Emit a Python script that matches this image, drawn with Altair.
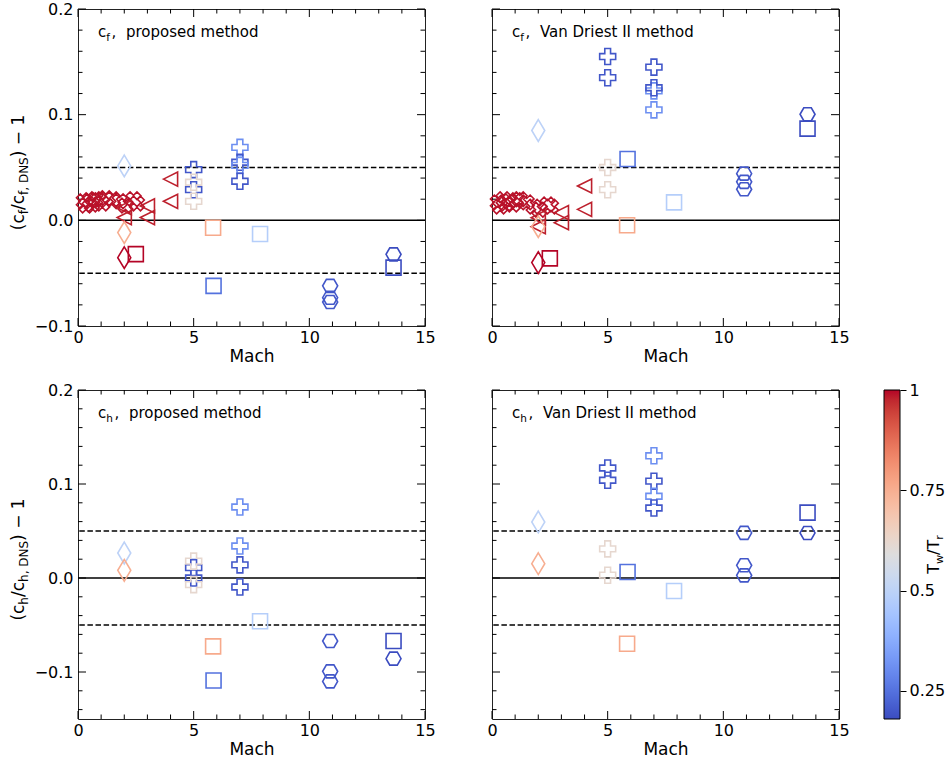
import altair as alt
import pandas as pd
import numpy as np

FONT = "DejaVu Sans"

# ---------------- data ----------------
# "X" markers (cf panels only)
cross_mach = [0.25, 0.35, 0.5, 0.6, 0.75, 0.9, 1.05, 1.2, 1.5, 1.8, 2.05, 2.4, 2.55]
cross_tw = [0.99, 0.99, 0.99, 0.99, 0.99, 0.99, 0.99, 0.99, 0.99, 0.99, 0.99, 0.99, 0.99]
cross_cf_prop = [0.018, 0.014, 0.019, 0.015, 0.020, 0.019, 0.016, 0.021, 0.020, 0.018, 0.014, 0.020, 0.016]
cross_cf_vd = [0.017, 0.013, 0.020, 0.016, 0.018, 0.015, 0.019, 0.020, 0.017, 0.013, 0.010, 0.015, 0.013]

# left triangles (cf panels only)
tri_mach = [2.0, 2.0, 3.0, 3.0, 4.0, 4.0]
tri_tw = [0.98, 0.98, 0.98, 0.98, 0.98, 0.98]
tri_cf_prop = [0.012, 0.0026, 0.0136, 0.0026, 0.039, 0.018]
tri_cf_vd = [0.0025, -0.006, 0.0073, -0.0022, 0.0325, 0.0104]

# thin diamonds
dia_mach = [2.0, 2.0, 2.0]
dia_tw = [0.5, 0.75, 1.0]
dia_cf_prop = [0.0515, -0.0116, -0.0353]
dia_cf_vd = [0.085, -0.006, -0.040]
dia_ch_prop = [0.0266, 0.0082, None]
dia_ch_vd = [0.0596, 0.0152, None]

# squares
sq_mach = [2.5, 5.84, 5.86, 7.87, 13.64]
sq_tw = [1.0, 0.76, 0.25, 0.48, 0.18]
sq_cf_prop = [-0.032, -0.007, -0.062, -0.013, -0.0448]
sq_cf_vd = [-0.036, -0.0047, 0.058, 0.017, 0.0868]
sq_ch_prop = [None, -0.0727, -0.109, -0.046, -0.067]
sq_ch_vd = [None, -0.070, 0.0064, -0.0138, 0.0695]

# plus markers
plus_mach = [5.0, 5.0, 5.0, 5.0, 7.0, 7.0, 7.0, 7.0]
plus_tw = [0.2, 0.2, 0.62, 0.62, 0.31, 0.2, 0.31, 0.2]
plus_cf_prop = [0.048, 0.029, 0.036, 0.018, 0.069, 0.055, 0.052, 0.037]
plus_cf_vd = [0.155, 0.135, 0.050, 0.029, 0.1225, 0.145, 0.1045, 0.1255]
plus_ch_prop = [0.011, 0.000, 0.018, -0.007, 0.0755, 0.014, 0.034, -0.0096]
plus_ch_vd = [0.117, 0.104, 0.031, 0.003, 0.130, 0.103, 0.087, 0.0745]

# hexagons
hex_mach = [10.9, 10.9, 10.9, 13.64]
hex_tw = [0.2, 0.2, 0.2, 0.18]
hex_cf_prop = [-0.062, -0.0732, -0.0773, -0.0322]
hex_cf_vd = [0.0442, 0.0364, 0.0294, 0.1004]
hex_ch_prop = [-0.067, -0.0993, -0.110, -0.0858]
hex_ch_vd = [0.048, 0.0135, 0.0028, 0.0479]

x_major = [0, 5, 10, 15]
x_minor = [1, 2, 3, 4, 6, 7, 8, 9, 11, 12, 13, 14]
y_major = [-0.1, 0.0, 0.1, 0.2]
y_minor_top = [-0.08, -0.06, -0.04, -0.02, 0.02, 0.04, 0.06, 0.08, 0.12, 0.14, 0.16, 0.18]
y_minor_bot = [-0.14, -0.12] + y_minor_top
cbar_ticks = [0.25, 0.5, 0.75, 1.0]

# ---------------- colour map (coolwarm) ----------------
CW = ["#3b4cc0", "#445acc", "#4d68d7", "#5775e1", "#6282ea", "#6c8ef1", "#779af7", "#82a5fb",
      "#8db0fe", "#98b9ff", "#a3c2ff", "#aec9fd", "#b8d0f9", "#c2d5f4", "#ccd9ee", "#d5dbe6",
      "#dddddd", "#e5d8d1", "#ecd3c5", "#f1ccb9", "#f5c4ad", "#f7bba0", "#f7b194", "#f7a687",
      "#f49a7b", "#f18d6f", "#ec7f63", "#e57058", "#de604d", "#d55042", "#cb3e38", "#c0282f",
      "#b40426"]
VMIN, VMAX = 0.18, 1.0
cdomain = [VMIN + (VMAX - VMIN) * i / 32 for i in range(33)]
cscale = alt.Scale(type="linear", domain=cdomain, range=CW, interpolate="rgb", clamp=True)

# ---------------- marker shapes ----------------
t = 0.36
plus_pts = [(-1, -t), (-t, -t), (-t, -1), (t, -1), (t, -t), (1, -t), (1, t), (t, t), (t, 1), (-t, 1), (-t, t), (-1, t)]
PLUS = "M" + "L".join(f"{x:.3f},{y:.3f}" for x, y in plus_pts) + "Z"
s = (1 + t) / np.sqrt(2)
XPATH = "M" + "L".join(f"{(x - y) / np.sqrt(2) / s:.3f},{(x + y) / np.sqrt(2) / s:.3f}" for x, y in plus_pts) + "Z"
TRI = "M-1,0L1,-1L1,1Z"
DIA = "M0,-1L0.6,0L0,1L-0.6,0Z"
SQ = "M-1,-1L1,-1L1,1L-1,1Z"
HEX = "M1,0L0.5,0.866L-0.5,0.866L-1,0L-0.5,-0.866L0.5,-0.866Z"
SHAPES = [("cross", XPATH, 215), ("tri", TRI, 200), ("dia", DIA, 470),
          ("sq", SQ, 225), ("plus", PLUS, 256), ("hex", HEX, 225)]

GROUPS = {
    "cf_prop": {"cross": (cross_mach, cross_tw, cross_cf_prop), "tri": (tri_mach, tri_tw, tri_cf_prop),
                "dia": (dia_mach, dia_tw, dia_cf_prop), "sq": (sq_mach, sq_tw, sq_cf_prop),
                "plus": (plus_mach, plus_tw, plus_cf_prop), "hex": (hex_mach, hex_tw, hex_cf_prop)},
    "cf_vd": {"cross": (cross_mach, cross_tw, cross_cf_vd), "tri": (tri_mach, tri_tw, tri_cf_vd),
              "dia": (dia_mach, dia_tw, dia_cf_vd), "sq": (sq_mach, sq_tw, sq_cf_vd),
              "plus": (plus_mach, plus_tw, plus_cf_vd), "hex": (hex_mach, hex_tw, hex_cf_vd)},
    "ch_prop": {"dia": (dia_mach, dia_tw, dia_ch_prop), "sq": (sq_mach, sq_tw, sq_ch_prop),
                "plus": (plus_mach, plus_tw, plus_ch_prop), "hex": (hex_mach, hex_tw, hex_ch_prop)},
    "ch_vd": {"dia": (dia_mach, dia_tw, dia_ch_vd), "sq": (sq_mach, sq_tw, sq_ch_vd),
              "plus": (plus_mach, plus_tw, plus_ch_vd), "hex": (hex_mach, hex_tw, hex_ch_vd)},
}

# ---------------- layout ----------------
W = 347
H_TOP = 317
H_BOT = 329
ONE = pd.DataFrame({"d": [0]})

# DejaVu Sans advance widths (em)
ADV = {"(": 0.390, ")": 0.390, "c": 0.550, "/": 0.337, " ": 0.318, "\u2212": 0.838, "1": 0.636,
       "f": 0.352, ",": 0.318, "D": 0.770, "N": 0.748, "S": 0.635, "h": 0.634, "T": 0.611,
       "w": 0.818, "r": 0.411}


def width(txt, size):
    return sum(ADV.get(ch, 0.6) for ch in txt) * size


def text(s_, x, y, size, angle=0):
    return alt.Chart(ONE).mark_text(
        font=FONT, fontSize=size, angle=angle, align="left", baseline="alphabetic", color="black"
    ).encode(x=alt.value(x), y=alt.value(y), text=alt.value(s_))


def rotated(pieces, xbase, ycenter, main, sub, shift):
    """pieces: list of (text, is_sub); composed bottom-to-top with angle 270."""
    total = sum(width(p, sub if sb else main) for p, sb in pieces)
    y = ycenter + total / 2
    out = []
    for p, sb in pieces:
        size = sub if sb else main
        out.append(text(p, xbase + (shift if sb else 0), y, size, angle=270))
        y -= width(p, size)
    return out


def panel(key, ymin, ymax, y_minor, H, show_y, letter, method, cbar=False):
    xs = alt.Scale(domain=[0, 15], nice=False, zero=False)
    ys = alt.Scale(domain=[ymin, ymax], nice=False, zero=False)
    xax = alt.Axis(values=x_major, format="d", ticks=False, tickSize=0, domain=False, grid=False,
                   labelPadding=3, labelFlush=False, title="Mach", titlePadding=3,
                   labelFontSize=16, titleFontSize=17)
    yax = alt.Axis(values=y_major, format=".1f", ticks=False, tickSize=0, domain=False, grid=False,
                   labelPadding=5, labels=show_y, title=None, labelFontSize=16)
    X = alt.X("M:Q", scale=xs, axis=xax)
    Y = alt.Y("v:Q", scale=ys, axis=yax)

    layers = []
    layers.append(alt.Chart(pd.DataFrame({"v": [0.05, -0.05]})).mark_rule(
        color="black", strokeWidth=1.5, strokeDash=[5.5, 2.6]).encode(y=Y))
    layers.append(alt.Chart(pd.DataFrame({"v": [0.0]})).mark_rule(
        color="black", strokeWidth=1.5).encode(y=Y))
    # inward ticks on all four sides
    for vals, ln in [(y_major, 8), (y_minor, 4.5)]:
        d = pd.DataFrame({"v": vals})
        layers.append(alt.Chart(d).mark_rule(color="black", strokeWidth=1).encode(
            y=Y, x=alt.value(0), x2=alt.value(ln)))
        layers.append(alt.Chart(d).mark_rule(color="black", strokeWidth=1).encode(
            y=Y, x=alt.value(W - ln), x2=alt.value(W)))
    for vals, ln in [(x_major, 8), (x_minor, 4.5)]:
        d = pd.DataFrame({"M": vals})
        layers.append(alt.Chart(d).mark_rule(color="black", strokeWidth=1).encode(
            x=X, y=alt.value(H - ln), y2=alt.value(H)))
        layers.append(alt.Chart(d).mark_rule(color="black", strokeWidth=1).encode(
            x=X, y=alt.value(0), y2=alt.value(ln)))
    # markers
    for name, path, size in SHAPES:
        if name not in GROUPS[key]:
            continue
        mach, tw, vals = GROUPS[key][name]
        rows = [{"M": m, "tw": c, "v": v} for m, c, v in zip(mach, tw, vals) if v is not None]
        layers.append(alt.Chart(pd.DataFrame(rows)).mark_point(
            shape=path, size=size, filled=False, strokeWidth=1.6, opacity=1).encode(
            x=X, y=Y, color=alt.Color("tw:Q", scale=cscale, legend=None)))
    # in-panel label
    sub_w = width(letter, 10.5)
    layers.append(text("c", 20, 28, 15))
    layers.append(text(letter, 28.3, 31.5, 10.5))
    layers.append(text(",", 28.3 + sub_w + 1.5, 28, 15))
    layers.append(text(method, 28.3 + sub_w + 16, 28, 15))
    # y title
    if show_y:
        pieces = [("(c", False), (letter, True), ("/c", False), (letter + ", DNS", True), (") \u2212 1", False)]
        layers += rotated(pieces, -54, H / 2 + 5, 17, 12, 4)
    main = alt.layer(*layers).properties(width=W, height=H)
    if not cbar:
        return main
    # colour bar (own y scale)
    grad = alt.LinearGradient(gradient="linear",
                              stops=[alt.GradientStop(color=c, offset=i / 32) for i, c in enumerate(CW)],
                              x1=0, x2=0, y1=1, y2=0)
    cbs = alt.Scale(domain=[VMIN, VMAX], nice=False, zero=False)
    cbax = alt.Axis(orient="right", offset=61, values=cbar_ticks, format=".2~f", domain=False, grid=False,
                    ticks=True, tickSize=6, tickColor="black", tickWidth=1, labelPadding=3,
                    labelFontSize=16, title=None)
    cb = alt.Chart(pd.DataFrame({"lo": [VMIN], "hi": [VMAX]})).mark_rect(
        fill=grad, stroke="black", strokeWidth=1).encode(
        y=alt.Y("lo:Q", scale=cbs, axis=cbax), y2="hi:Q",
        x=alt.value(W + 45), x2=alt.value(W + 61))
    cb_title = rotated([("T", False), ("w", True), ("/T", False), ("r", True)], W + 100, H / 2, 16, 11.2, 3.5)
    return alt.layer(main, cb, *cb_title).resolve_scale(y="independent")


TL = panel("cf_prop", -0.1, 0.2, y_minor_top, H_TOP, True, "f", "proposed method")
TR = panel("cf_vd", -0.1, 0.2, y_minor_top, H_TOP, False, "f", "Van Driest II method")
BL = panel("ch_prop", -0.15, 0.2, y_minor_bot, H_BOT, True, "h", "proposed method")
BR = panel("ch_vd", -0.15, 0.2, y_minor_bot, H_BOT, False, "h", "Van Driest II method", cbar=True)

chart = alt.concat(TL, TR, BL, BR, columns=2, spacing={"row": 64, "column": 67}, bounds="flush").properties(
    autosize=alt.AutoSizeParams(type="pad"),
    padding={"left": 9, "top": 0, "right": 0, "bottom": 0},
).configure_view(stroke="#222222", strokeWidth=1).configure_axis(
    labelFont=FONT, titleFont=FONT, labelColor="black", titleColor="black", titleFontWeight="normal"
)

chart.save("out.html", embed_options={"renderer": "svg", "actions": False})
